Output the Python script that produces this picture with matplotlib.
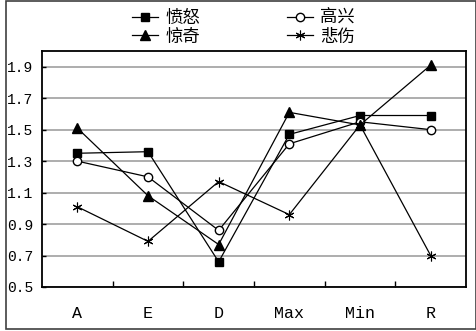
import matplotlib
matplotlib.use("Agg")
import matplotlib.pyplot as plt
from matplotlib.patches import Rectangle
import numpy as np

categories = ["A", "E", "D", "Max", "Min", "R"]
anger = [1.35, 1.36, 0.66, 1.47, 1.59, 1.59]      # 愤怒
happy = [1.30, 1.20, 0.86, 1.41, 1.55, 1.50]      # 高兴
surprise = [1.51, 1.08, 0.77, 1.61, 1.53, 1.91]   # 惊奇
sad = [1.01, 0.79, 1.17, 0.96, 1.53, 0.70]        # 悲伤
y_ticks = [0.5, 0.7, 0.9, 1.1, 1.3, 1.5, 1.7, 1.9]

fig = plt.figure(figsize=(4.77, 3.31), dpi=100)
ax = fig.add_axes([42 / 477, 44 / 331, 424 / 477, 236 / 331])

x = np.arange(len(categories))
kw = dict(color="black", linewidth=0.9, markeredgecolor="black")
l_anger, = ax.plot(x, anger, marker="s", markersize=6, markerfacecolor="black", label="愤怒", **kw)
l_happy, = ax.plot(x, happy, marker="o", markersize=6, markerfacecolor="white", label="高兴", **kw)
l_surp, = ax.plot(x, surprise, marker="^", markersize=7, markerfacecolor="black", label="惊奇", **kw)
l_sad, = ax.plot(x, sad, marker=(6, 2, 0), markersize=7, markeredgewidth=0.8, label="悲伤", **kw)

ax.set_xlim(-0.5, len(categories) - 0.5)
ax.set_ylim(0.5, 2.0)
ax.set_yticks(y_ticks)
ax.set_yticklabels([f"{v:.1f}" for v in y_ticks], family="Liberation Mono", fontsize=10.5)
ax.yaxis.grid(True, color="#a0a0a0", linewidth=1.2)
ax.set_axisbelow(True)
ax.tick_params(axis="y", direction="in", length=3, width=1, pad=6)

ax.set_xticks(x)
ax.set_xticklabels(categories, family="Liberation Mono", fontsize=12)
ax.set_xticks(np.arange(0.5, len(categories) - 0.5), minor=True)
ax.tick_params(axis="x", which="major", length=0, pad=14)
ax.tick_params(axis="x", which="minor", direction="in", length=4, width=1)

for s in ax.spines.values():
    s.set_linewidth(1.3)

fig.legend(handles=[l_anger, l_surp, l_happy, l_sad], ncol=2, loc="upper center",
           bbox_to_anchor=(0.51, 1.0), frameon=False, handlelength=1.5,
           handletextpad=0.4, columnspacing=5.0, labelspacing=0.05,
           prop={"family": ["Noto Sans CJK SC", "DejaVu Sans"], "size": 12.5},
           borderaxespad=0.1)

fig.patches.append(Rectangle((6 / 477, 2 / 331), 470 / 477, 328 / 331,
                             transform=fig.transFigure, fill=False,
                             edgecolor="#404040", linewidth=1.2))

fig.savefig("out.png", dpi=100)
